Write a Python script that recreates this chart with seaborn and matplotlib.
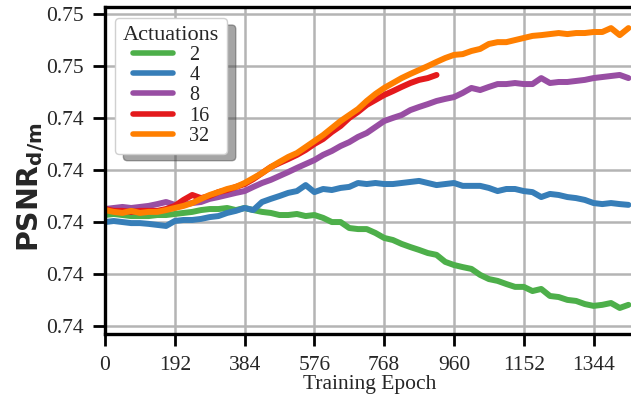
import matplotlib
matplotlib.use("Agg")
import matplotlib.pyplot as plt
import numpy as np
import pandas as pd
import seaborn as sns
from matplotlib.ticker import FormatStrFormatter

# values (one reading every 24 epochs)
epochs = np.arange(0, 1441, 24)

psnr_2 = [0.74028, 0.74032, 0.74028, 0.74024, 0.74024, 0.74024, 0.74028, 0.74028, 0.74032, 0.74036,
          0.74040, 0.74047, 0.74051, 0.74051, 0.74055, 0.74047, 0.74055, 0.74047, 0.74040, 0.74036,
          0.74028, 0.74028, 0.74032, 0.74024, 0.74028, 0.74017, 0.74001, 0.74001, 0.73978, 0.73974,
          0.73974, 0.73959, 0.73940, 0.73932, 0.73917, 0.73905, 0.73894, 0.73882, 0.73875, 0.73848,
          0.73836, 0.73828, 0.73821, 0.73798, 0.73782, 0.73775, 0.73763, 0.73752, 0.73752, 0.73736,
          0.73744, 0.73717, 0.73713, 0.73702, 0.73698, 0.73686, 0.73679, 0.73683, 0.73690, 0.73671, 0.73683]

psnr_4 = [0.74001, 0.74005, 0.74001, 0.73997, 0.73997, 0.73994, 0.73990, 0.73986, 0.74005, 0.74009,
          0.74009, 0.74013, 0.74020, 0.74024, 0.74036, 0.74044, 0.74055, 0.74047, 0.74078, 0.74090,
          0.74101, 0.74113, 0.74120, 0.74143, 0.74116, 0.74128, 0.74124, 0.74132, 0.74136, 0.74151,
          0.74147, 0.74151, 0.74147, 0.74147, 0.74151, 0.74155, 0.74159, 0.74151, 0.74143, 0.74147,
          0.74151, 0.74140, 0.74140, 0.74140, 0.74132, 0.74120, 0.74128, 0.74128, 0.74120, 0.74116,
          0.74097, 0.74109, 0.74105, 0.74097, 0.74093, 0.74086, 0.74074, 0.74070, 0.74074, 0.74070, 0.74067]

psnr_8 = [0.74051, 0.74055, 0.74059, 0.74055, 0.74059, 0.74063, 0.74070, 0.74078, 0.74067, 0.74067,
          0.74074, 0.74078, 0.74090, 0.74097, 0.74105, 0.74113, 0.74120, 0.74136, 0.74151, 0.74163,
          0.74178, 0.74193, 0.74209, 0.74224, 0.74239, 0.74259, 0.74274, 0.74293, 0.74308, 0.74328,
          0.74343, 0.74366, 0.74389, 0.74401, 0.74412, 0.74431, 0.74443, 0.74454, 0.74466, 0.74474,
          0.74481, 0.74497, 0.74516, 0.74508, 0.74520, 0.74531, 0.74531, 0.74535, 0.74531, 0.74531,
          0.74554, 0.74535, 0.74539, 0.74539, 0.74543, 0.74547, 0.74554, 0.74558, 0.74562, 0.74566, 0.74554]

# the 16-actuation run stops early
psnr_16 = [0.74051, 0.74044, 0.74044, 0.74040, 0.74044, 0.74044, 0.74044, 0.74051, 0.74063, 0.74086,
           0.74105, 0.74093, 0.74101, 0.74116, 0.74124, 0.74136, 0.74147, 0.74166, 0.74189, 0.74212,
           0.74228, 0.74243, 0.74259, 0.74278, 0.74301, 0.74320, 0.74347, 0.74370, 0.74401, 0.74424,
           0.74451, 0.74470, 0.74489, 0.74504, 0.74520, 0.74535, 0.74547, 0.74554, 0.74566]

psnr_32 = [0.74047, 0.74040, 0.74036, 0.74044, 0.74036, 0.74040, 0.74040, 0.74047, 0.74055, 0.74063,
           0.74074, 0.74090, 0.74105, 0.74116, 0.74128, 0.74136, 0.74151, 0.74170, 0.74189, 0.74212,
           0.74232, 0.74251, 0.74266, 0.74289, 0.74312, 0.74335, 0.74362, 0.74389, 0.74412, 0.74435,
           0.74466, 0.74493, 0.74516, 0.74535, 0.74554, 0.74570, 0.74585, 0.74600, 0.74616, 0.74631,
           0.74643, 0.74646, 0.74658, 0.74666, 0.74685, 0.74692, 0.74692, 0.74700, 0.74708, 0.74716,
           0.74719, 0.74723, 0.74727, 0.74723, 0.74727, 0.74727, 0.74731, 0.74731, 0.74746, 0.74719, 0.74746]

actuations = ["2", "4", "8", "16", "32"]
colors = ["#4daf4a", "#377eb8", "#984ea3", "#e41a1c", "#ff7f00"]
y_ticks = [0.736, 0.738, 0.740, 0.742, 0.744, 0.746, 0.748]
x_ticks = [0, 192, 384, 576, 768, 960, 1152, 1344]


def build_frame():
    series = [psnr_2, psnr_4, psnr_8, psnr_16, psnr_32]
    rows = []
    for name, vals in zip(actuations, series):
        for e, v in zip(epochs[:len(vals)], vals):
            rows.append({"epoch": e, "psnr": v, "Actuations": name})
    return pd.DataFrame(rows)


def main():
    sns.set_theme(style="ticks")
    plt.rcParams["font.family"] = ["Liberation Serif", "DejaVu Serif"]
    plt.rcParams["mathtext.fontset"] = "dejavusans"

    df = build_frame()
    fig = plt.figure(figsize=(6.31, 3.97), dpi=100)
    ax = fig.add_axes([105 / 631, 63 / 397, 530 / 631, 327 / 397])

    sns.lineplot(data=df, x="epoch", y="psnr", hue="Actuations",
                 hue_order=actuations, palette=dict(zip(actuations, colors)),
                 linewidth=4.3, ax=ax)

    ax.set_xlim(0, 1458)
    ax.set_ylim(0.73571, 0.74827)
    ax.set_xticks(x_ticks)
    ax.set_yticks(y_ticks)
    ax.yaxis.set_major_formatter(FormatStrFormatter("%.2f"))
    ax.grid(True, color="#b4b4b4", linewidth=1.8)
    ax.set_axisbelow(True)
    for sp in ax.spines.values():
        sp.set_color("black")
        sp.set_linewidth(2.4)
    ax.tick_params(axis="both", length=8.5, width=2, pad=7, labelsize=15.5, color="black")

    ax.set_xlabel("Training Epoch", fontsize=15.5, labelpad=0)
    ax.set_ylabel("")
    fig.text(31 / 631, 1 - 187 / 397, r"$\mathbf{PSNR}_{\mathbf{d/m}}$",
             rotation=90, ha="center", va="center", fontsize=20.5)

    handles, labels = ax.get_legend_handles_labels()
    leg = ax.legend(handles, labels, title="Actuations", loc="upper left",
                    bbox_to_anchor=(0.019, 0.966), borderaxespad=0,
                    fontsize=14.5, title_fontsize=16, labelspacing=0.05,
                    handlelength=2.0, frameon=True, fancybox=True,
                    framealpha=1, shadow={"ox": 6, "oy": -5})
    leg.get_frame().set_edgecolor("#d0d0d0")
    for line in leg.get_lines():
        line.set_linewidth(4)

    fig.savefig("out.png", dpi=100)


if __name__ == "__main__":
    main()
